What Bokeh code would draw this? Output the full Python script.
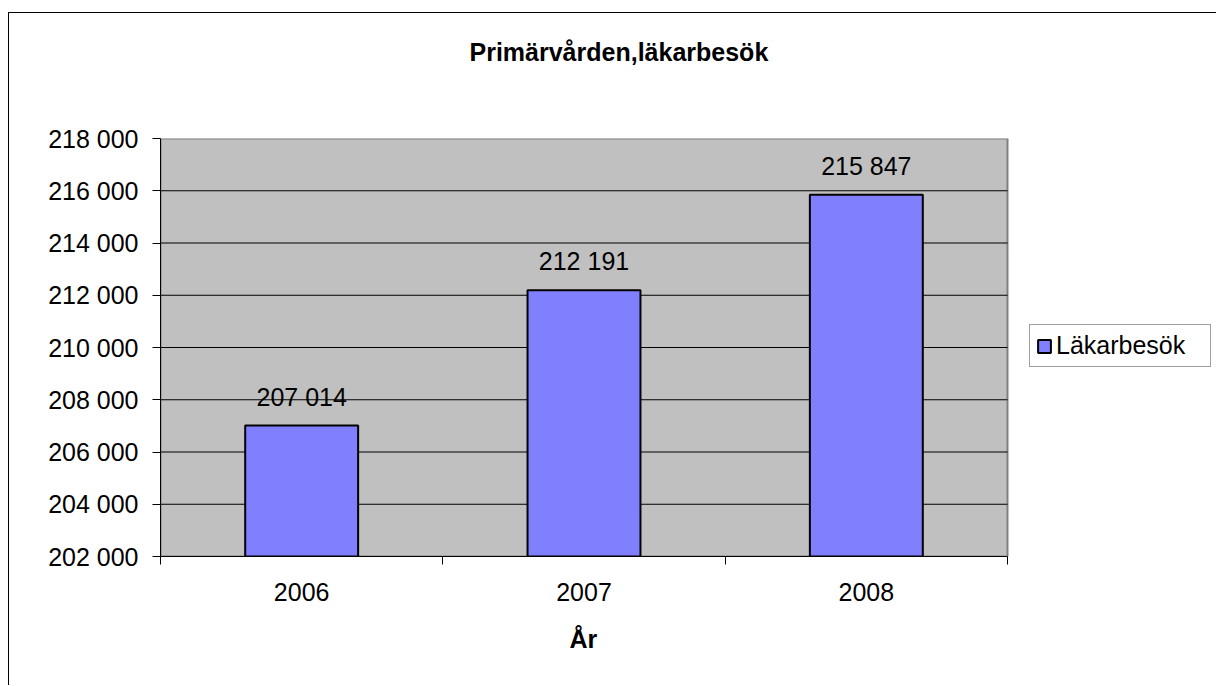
from bokeh.plotting import figure
from bokeh.models import ColumnDataSource, FixedTicker, Legend, LegendItem, Range1d, Title
from bokeh.embed import file_html
from bokeh.resources import INLINE

# ---- data ----
title_text = "Primärvården,läkarbesök"
x_title = "År"
series_name = "Läkarbesök"
years = ["2006", "2007", "2008"]
visits = [207014, 212191, 215847]
visit_labels = ["207 014", "212 191", "215 847"]
y_ticks = [202000, 204000, 206000, 208000, 210000, 212000, 214000, 216000, 218000]
y_tick_labels = ["202 000", "204 000", "206 000", "208 000", "210 000",
                 "212 000", "214 000", "216 000", "218 000"]

FONT = "Liberation Sans"
FS = "25px"

n = len(years)
xpos = [i + 0.5 for i in range(n)]
src = ColumnDataSource(dict(x=xpos, top=visits, label=visit_labels))

W, H = 1208, 673
MB_LEFT = 151
frame_w = W - MB_LEFT
plot_w = 847  # width in px of the grey plot area
x_end = n * frame_w / plot_w

p = figure(width=W, height=H,
           x_range=Range1d(0, x_end), y_range=Range1d(y_ticks[0], y_ticks[-1]),
           output_backend="svg", toolbar_location=None,
           min_border_left=MB_LEFT, min_border_right=0,
           min_border_top=125, min_border_bottom=130)
p.styles = {"border-top": "1px solid black", "border-left": "1px solid black",
            "margin-top": "12px", "margin-left": "8px"}

p.background_fill_color = "white"
p.border_fill_color = "white"
p.outline_line_color = None

# spacer between title and frame, then the real title further out
p.add_layout(Title(text=" ", text_font_size="10px", standoff=60), "above")
p.add_layout(Title(text=title_text, align="left", offset=309, text_font=FONT,
                   text_font_size=FS, text_font_style="bold",
                   text_color="black", standoff=0), "above")

# grey plot area
p.quad(left=0, right=n, bottom=y_ticks[0], top=y_ticks[-1],
       fill_color="#C0C0C0", line_color="#808080", line_width=2)

# horizontal gridlines across the plot area
inner = y_ticks[1:-1]
p.segment(x0=[0] * len(inner), x1=[n] * len(inner), y0=inner, y1=inner,
          line_color="black", line_width=1)

r = p.vbar(x="x", top="top", bottom=y_ticks[0], width=0.4, source=src,
           fill_color="#8080FF", line_color="black", line_width=2)

p.text(x="x", y="top", text="label", source=src, text_align="center",
       text_baseline="alphabetic", y_offset=-29, text_font_size=FS,
       text_font={"value": FONT}, text_color="black")

p.xgrid.visible = False
p.ygrid.visible = False

# y axis
p.yaxis.ticker = FixedTicker(ticks=y_ticks)
p.yaxis.major_label_overrides = {t: l for t, l in zip(y_ticks, y_tick_labels)}
p.yaxis.major_tick_out = 8
p.yaxis.major_tick_in = 0
p.yaxis.minor_tick_out = 0
p.yaxis.minor_tick_in = 0
p.yaxis.major_label_standoff = 14
p.yaxis.major_label_text_font = FONT
p.yaxis.major_label_text_font_size = FS
p.yaxis.major_label_text_color = "black"
p.yaxis.axis_line_color = "black"
p.yaxis.major_tick_line_color = "black"

# x axis
p.xaxis.bounds = (0, n)
p.xaxis.ticker = FixedTicker(ticks=xpos, minor_ticks=list(range(n + 1)))
p.xaxis.major_label_overrides = {x: y for x, y in zip(xpos, years)}
p.xaxis.major_tick_out = 0
p.xaxis.major_tick_in = 0
p.xaxis.minor_tick_out = 8
p.xaxis.minor_tick_in = 0
p.xaxis.minor_tick_line_color = "black"
p.xaxis.minor_tick_line_width = 1
p.xaxis.major_label_standoff = 18
p.xaxis.major_label_text_font = FONT
p.xaxis.major_label_text_font_size = FS
p.xaxis.major_label_text_color = "black"
p.xaxis.axis_line_color = "black"

# x axis title, centred under the grey plot area
p.add_layout(Title(text=x_title, align="left", offset=409, text_font=FONT,
                   text_font_size=FS, text_font_style="bold",
                   text_color="black", standoff=38), "below")

legend = Legend(items=[LegendItem(label=series_name, renderers=[r])],
                location=(869, 189))
legend.glyph_width = 16
legend.glyph_height = 16
legend.label_text_font = FONT
legend.label_text_font_size = FS
legend.label_text_color = "black"
legend.label_standoff = 4
legend.padding = 6
legend.margin = 0
legend.spacing = 0
legend.border_line_color = "#404040"
legend.border_line_width = 1
legend.background_fill_color = "white"
legend.background_fill_alpha = 1
legend.label_width = 148
p.add_layout(legend)

open("out.html", "w").write(file_html(p, INLINE))
